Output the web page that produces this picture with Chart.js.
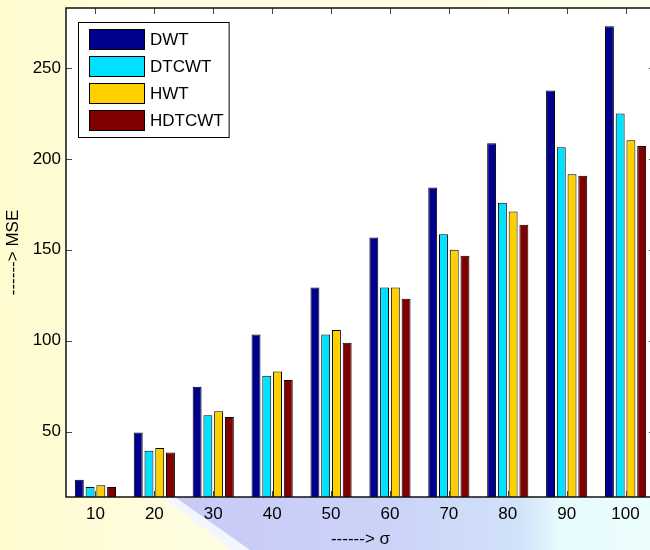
<!DOCTYPE html>
<html>
<head>
<meta charset="utf-8">
<script src="https://cdn.jsdelivr.net/npm/chart.js@4"></script>
<style>
  html, body {
    margin: 0;
    padding: 0;
    width: 650px;
    height: 550px;
    overflow: hidden;
  }
  body {
    position: relative;
    background: linear-gradient(to right, #fffbcf 0%, #fffde0 30%, #fffee8 100%);
  }
  /* slide background decoration at the bottom */
  #deco {
    position: absolute;
    left: 0;
    top: 495px;
    width: 650px;
    height: 55px;
    background: linear-gradient(to right, #c9cbf6 30%, #cbd3f8 60%, #d2e2fa 80%, #e6fbfc 86%, #ecfdfd 100%);
    clip-path: polygon(168px 0, 650px 0, 650px 55px, 240px 55px);
  }
  #deco-edge {
    position: absolute;
    left: 0;
    top: 495px;
    width: 650px;
    height: 55px;
    background: #f4f6ff;
    clip-path: polygon(160px 0, 172px 0, 250px 55px, 232px 55px);
  }
  canvas {
    position: absolute;
    left: 0;
    top: 0;
  }
</style>
</head>
<body>
<div id="deco"></div>
<div id="deco-edge"></div>
<canvas id="chart" width="660" height="550"></canvas>
<script>
// Data
const categories = ["10", "20", "30", "40", "50", "60", "70", "80", "90", "100"];
const dwt = [23.5, 49.5, 74.7, 103.4, 129.3, 156.7, 184.2, 208.6, 237.6, 273.0];
const dtcwt = [19.5, 39.4, 59.0, 80.7, 103.4, 129.3, 158.5, 175.9, 206.4, 225.0];
const hwt = [20.4, 40.9, 61.2, 83.1, 105.9, 129.3, 150.0, 171.1, 191.6, 210.2];
const hdtcwt = [19.5, 38.5, 58.0, 78.3, 98.8, 123.1, 146.7, 163.8, 190.7, 207.1];
const yTicks = [50, 100, 150, 200, 250];
const yMin = 14;
const yMax = 283;

const fontFamily = "'Liberation Sans', Arial, sans-serif";

// white plot area, box frame with inward ticks, legend inside the axes
const matlabAxes = {
  id: "matlabAxes",
  beforeDraw(chart) {
    const { ctx, chartArea: a } = chart;
    ctx.save();
    ctx.fillStyle = "#ffffff";
    ctx.fillRect(a.left, a.top, a.right - a.left, a.bottom - a.top);
    ctx.restore();
  },
  afterDatasetsDraw(chart) {
    const { ctx, chartArea: a, scales } = chart;
    const len = 6;
    ctx.save();
    ctx.strokeStyle = "#444";
    ctx.lineWidth = 1;
    ctx.beginPath();
    scales.y.ticks.forEach((t) => {
      const y = Math.round(scales.y.getPixelForValue(t.value)) + 0.5;
      ctx.moveTo(a.left, y);
      ctx.lineTo(a.left + len, y);
      ctx.moveTo(a.right, y);
      ctx.lineTo(a.right - len, y);
    });
    categories.forEach((c, i) => {
      const x = Math.round(scales.x.getPixelForValue(i)) + 0.5;
      ctx.moveTo(x, a.top);
      ctx.lineTo(x, a.top + len);
      ctx.moveTo(x, a.bottom);
      ctx.lineTo(x, a.bottom - len);
    });
    ctx.stroke();

    ctx.strokeStyle = "#111";
    ctx.lineWidth = 1.5;
    ctx.strokeRect(a.left, a.top, a.right - a.left, a.bottom - a.top);

    // legend
    ctx.font = "17px " + fontFamily;
    const labels = chart.data.datasets.map((d) => d.label);
    const textW = Math.max(...labels.map((l) => ctx.measureText(l).width));
    const boxX = a.left + 12;
    const boxY = a.top + 14;
    const rowH = 27;
    const boxW = 72 + textW + 5;
    const boxH = rowH * labels.length + 7;
    ctx.fillStyle = "#ffffff";
    ctx.fillRect(boxX, boxY, boxW, boxH);
    ctx.strokeStyle = "#000";
    ctx.lineWidth = 1;
    ctx.strokeRect(boxX + 0.5, boxY + 0.5, boxW, boxH);
    chart.data.datasets.forEach((d, i) => {
      const cy = boxY + 17 + i * rowH;
      ctx.fillStyle = d.backgroundColor;
      ctx.fillRect(boxX + 11, cy - 10, 55, 20);
      ctx.strokeStyle = "#000";
      ctx.strokeRect(boxX + 11.5, cy - 9.5, 55, 20);
      ctx.fillStyle = "#000";
      ctx.textBaseline = "middle";
      ctx.textAlign = "left";
      ctx.fillText(d.label, boxX + 72, cy + 1);
    });
    ctx.restore();
  },
};

const ctx = document.getElementById("chart").getContext("2d");

const barStyle = {
  borderColor: "#000",
  borderWidth: 1,
  borderSkipped: false,
  categoryPercentage: 0.73,
  barPercentage: 0.83,
};

new Chart(ctx, {
  type: "bar",
  data: {
    labels: categories,
    datasets: [
      { label: "DWT", data: dwt, backgroundColor: "#00008f", ...barStyle },
      { label: "DTCWT", data: dtcwt, backgroundColor: "#00e0ff", ...barStyle },
      { label: "HWT", data: hwt, backgroundColor: "#ffd000", ...barStyle },
      { label: "HDTCWT", data: hdtcwt, backgroundColor: "#800000", ...barStyle },
    ],
  },
  options: {
    responsive: false,
    animation: false,
    layout: {
      padding: { left: 0, top: 8, right: 5, bottom: 0 },
    },
    plugins: {
      legend: { display: false },
      tooltip: { enabled: false },
    },
    scales: {
      x: {
        grid: { display: false, drawTicks: false },
        border: { display: false },
        ticks: {
          color: "#000",
          font: { family: fontFamily, size: 17 },
          padding: 7,
          maxRotation: 0,
        },
        title: {
          display: true,
          text: "------> σ",
          color: "#000",
          font: { family: fontFamily, size: 17 },
          padding: { top: 0, bottom: 0 },
        },
        afterFit(scale) {
          scale.height = 53;
          scale.paddingLeft = 0;
          scale.paddingRight = 0;
        },
      },
      y: {
        min: yMin,
        max: yMax,
        grid: { display: false, drawTicks: false },
        border: { display: false },
        ticks: {
          color: "#000",
          font: { family: fontFamily, size: 17 },
          padding: 5,
        },
        afterBuildTicks(scale) {
          scale.ticks = yTicks.map((v) => ({ value: v }));
        },
        title: {
          display: true,
          text: "------> MSE",
          color: "#000",
          font: { family: fontFamily, size: 17, lineHeight: 1 },
          padding: { top: 5, bottom: 0 },
        },
        afterFit(scale) {
          scale.width = 66;
          scale.paddingTop = 0;
          scale.paddingBottom = 0;
        },
      },
    },
  },
  plugins: [matlabAxes],
});
</script>
</body>
</html>
